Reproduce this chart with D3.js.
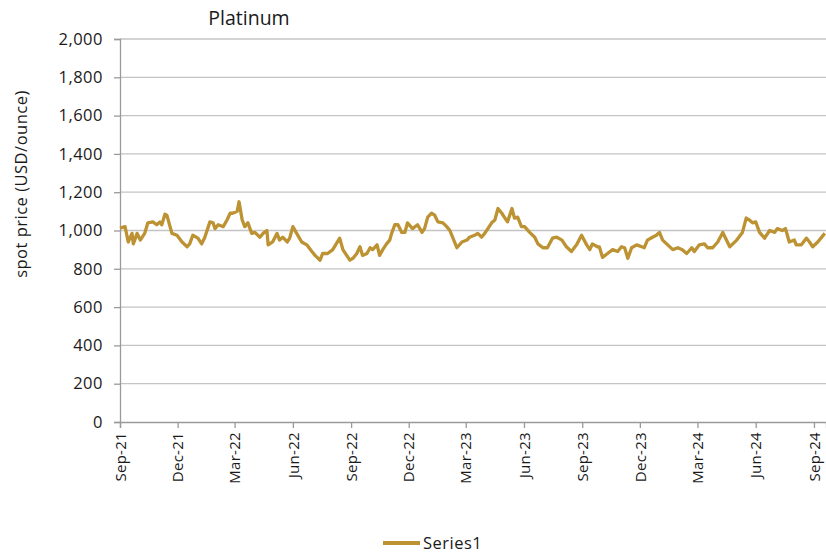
<!DOCTYPE html>
<html>
<head>
<meta charset="utf-8">
<script src="https://cdn.jsdelivr.net/npm/d3@7"></script>
<style>
  html, body { margin: 0; padding: 0; background: #fff; }
  #chart { width: 826px; height: 554px; }
  .chart__text { font-family: "Open Sans", Lato, sans-serif; fill: #1a1a1a; }
  .chart__title { font-size: 19.5px; text-anchor: middle; }
  .chart__tick { font-size: 16.5px; letter-spacing: 0.5px; }
  .chart__tick--x { font-size: 15px; letter-spacing: 0.3px; }
  .chart__line { fill: none; stroke: #bc9232; stroke-width: 3.3px; stroke-linejoin: round; }
  .chart__line--grid { stroke: #c4c4c4; stroke-width: 1.3px; }
  .chart__axis-line { stroke: #9a9a9a; stroke-width: 1.3px; }
</style>
</head>
<body>
<div id="chart"></div>
<script>
const dates = [
  "2021-09-01","2021-09-09","2021-09-14","2021-09-20","2021-09-22","2021-09-28","2021-10-03","2021-10-10",
  "2021-10-15","2021-10-23","2021-10-29","2021-11-03","2021-11-06","2021-11-11","2021-11-14","2021-11-22",
  "2021-11-30","2021-12-08","2021-12-16","2021-12-20","2021-12-25","2022-01-02","2022-01-08","2022-01-13",
  "2022-01-21","2022-01-26","2022-01-29","2022-02-03","2022-02-11","2022-02-17","2022-02-22","2022-02-26",
  "2022-03-05","2022-03-08","2022-03-13","2022-03-17","2022-03-22","2022-03-28","2022-04-02","2022-04-10",
  "2022-04-15","2022-04-21","2022-04-23","2022-04-30","2022-05-07","2022-05-11","2022-05-16","2022-05-23",
  "2022-05-27","2022-06-01","2022-06-07","2022-06-15","2022-06-23","2022-07-01","2022-07-06","2022-07-14",
  "2022-07-18","2022-07-26","2022-08-03","2022-08-14","2022-08-19","2022-08-25","2022-08-30","2022-09-04",
  "2022-09-10","2022-09-15","2022-09-19","2022-09-26","2022-10-01","2022-10-05","2022-10-12","2022-10-16",
  "2022-10-21","2022-10-27","2022-11-01","2022-11-04","2022-11-09","2022-11-14","2022-11-20","2022-11-25",
  "2022-11-29","2022-12-07","2022-12-15","2022-12-22","2022-12-26","2022-12-31","2023-01-06","2023-01-11",
  "2023-01-16","2023-01-24","2023-01-30","2023-02-04","2023-02-15","2023-02-23","2023-03-03","2023-03-07",
  "2023-03-15","2023-03-20","2023-03-26","2023-03-31","2023-04-05","2023-04-11","2023-04-16","2023-04-21",
  "2023-04-27","2023-05-02","2023-05-06","2023-05-13","2023-05-17","2023-05-22","2023-05-28","2023-06-02",
  "2023-06-10","2023-06-18","2023-06-23","2023-07-01","2023-07-08","2023-07-16","2023-07-23","2023-07-31",
  "2023-08-07","2023-08-15","2023-08-23","2023-08-31","2023-09-08","2023-09-13","2023-09-17","2023-09-25",
  "2023-09-28","2023-10-03","2023-10-11","2023-10-19","2023-10-27","2023-11-02","2023-11-07","2023-11-12",
  "2023-11-18","2023-11-26","2023-12-04","2023-12-08","2023-12-13","2023-12-21","2023-12-27","2024-01-01",
  "2024-01-06","2024-01-14","2024-01-22","2024-01-30","2024-02-06","2024-02-13","2024-02-21","2024-02-25",
  "2024-03-04","2024-03-12","2024-03-17","2024-03-25","2024-04-02","2024-04-10","2024-04-21","2024-05-02",
  "2024-05-11","2024-05-17","2024-05-22","2024-05-27","2024-06-01","2024-06-07","2024-06-15","2024-06-23",
  "2024-07-01","2024-07-05","2024-07-13","2024-07-18","2024-07-24","2024-08-01","2024-08-04","2024-08-12",
  "2024-08-20","2024-08-25","2024-08-30","2024-09-07","2024-09-18"
];

// Platinum spot price, USD/ounce
const prices = [
  1013,1020,940,985,930,985,950,985,
  1040,1045,1030,1045,1030,1085,1080,985,
  975,940,915,930,975,960,930,965,
  1045,1040,1010,1030,1020,1055,1090,1090,
  1100,1150,1055,1020,1040,985,990,965,
  985,1000,925,940,985,950,965,940,
  960,1020,985,940,925,890,870,845,
  880,880,900,960,900,870,845,855,
  880,915,870,880,910,900,925,870,
  900,930,950,985,1030,1030,990,990,
  1040,1010,1030,990,1010,1070,1090,1080,
  1045,1040,1020,1000,910,940,950,965,
  975,985,965,985,1010,1040,1055,1115,
  1090,1065,1045,1115,1065,1070,1020,1020,
  990,965,930,910,910,960,965,950,
  915,890,925,975,925,900,930,915,
  915,860,880,900,890,915,910,855,
  910,925,915,910,950,965,975,990,
  950,925,900,910,900,880,910,890,
  925,930,910,910,940,990,915,950,
  990,1065,1055,1040,1045,990,960,1000,
  990,1010,1000,1010,940,950,925,925,
  960,940,915,940,985
];

// Axis tick values and labels
const yTicks = [0, 200, 400, 600, 800, 1000, 1200, 1400, 1600, 1800, 2000];
const xTickDates = ["2021-09-01","2021-12-01","2022-03-01","2022-06-01","2022-09-01","2022-12-01",
  "2023-03-01","2023-06-01","2023-09-01","2023-12-01","2024-03-01","2024-06-01","2024-09-01"];
const xTickLabels = ["Sep-21","Dec-21","Mar-22","Jun-22","Sep-22","Dec-22",
  "Mar-23","Jun-23","Sep-23","Dec-23","Mar-24","Jun-24","Sep-24"];

const seriesName = "Series1";
const chartTitle = "Platinum";
const yLabel = "spot price (USD/ounce)";

const parse = d3.utcParse("%Y-%m-%d");

// Chart geometry
const w = 826, h = 554;
const margin = { top: 39, right: 0, bottom: 132, left: 120 };
const width = w - margin.left - margin.right;
const height = h - margin.top - margin.bottom;

const svg = d3.select("#chart")
  .append("svg")
  .attr("width", w)
  .attr("height", h);

const g = svg.append("g")
  .attr("transform", `translate(${margin.left},${margin.top})`);

// Scales
const x = d3.scaleUtc()
  .domain([parse("2021-09-01"), parse("2024-09-20")])
  .range([0, width]);

const y = d3.scaleLinear()
  .domain([0, 2000])
  .range([height, 0]);

// Grid lines
g.selectAll(".chart__line--grid")
  .data(yTicks.filter(d => d > 0))
  .enter()
  .append("line")
  .attr("class", "chart__line--grid")
  .attr("x1", 0)
  .attr("x2", width)
  .attr("y1", d => y(d))
  .attr("y2", d => y(d));

// Y axis
const yAxis = d3.axisLeft(y)
  .tickValues(yTicks)
  .tickSize(6)
  .tickPadding(11)
  .tickFormat(d3.format(","));

const gY = g.append("g").call(yAxis);
gY.select(".domain").attr("class", "chart__axis-line").attr("fill", "none");
gY.selectAll(".tick line").attr("class", "chart__axis-line");
gY.selectAll(".tick text")
  .attr("class", "chart__text chart__tick")
  .attr("fill", null);

// X axis
const xAxis = d3.axisBottom(x)
  .tickValues(xTickDates.map(parse))
  .tickSize(6)
  .tickFormat((d, i) => xTickLabels[i]);

const gX = g.append("g")
  .attr("transform", `translate(0,${height})`)
  .call(xAxis);
gX.select(".domain").attr("class", "chart__axis-line").attr("fill", "none");
gX.selectAll(".tick line").attr("class", "chart__axis-line");
gX.selectAll(".tick text")
  .attr("class", "chart__text chart__tick--x")
  .attr("fill", null)
  .attr("transform", "rotate(-90)")
  .attr("text-anchor", "end")
  .attr("x", -10)
  .attr("y", 0)
  .attr("dy", "0.35em");

// Price line
const data = dates.map((d, i) => ({ date: parse(d), value: prices[i] }));
const line = d3.line()
  .x(d => x(d.date))
  .y(d => y(d.value));

g.append("path")
  .datum(data)
  .attr("class", "chart__line")
  .attr("d", line);

// Title
svg.append("text")
  .attr("class", "chart__text chart__title")
  .attr("x", 249)
  .attr("y", 25)
  .text(chartTitle);

// Y axis label
svg.append("text")
  .attr("class", "chart__text chart__tick")
  .attr("text-anchor", "middle")
  .attr("transform", "translate(27,184) rotate(-90)")
  .text(yLabel);

// Legend
const legend = svg.append("g").attr("transform", "translate(383,543)");
legend.append("line")
  .attr("class", "chart__line")
  .attr("x1", 0)
  .attr("x2", 37)
  .attr("y1", 0)
  .attr("y2", 0)
  .style("stroke-width", "4px");
legend.append("text")
  .attr("class", "chart__text chart__tick")
  .attr("x", 40)
  .attr("y", 5.5)
  .text(seriesName);
</script>
</body>
</html>
